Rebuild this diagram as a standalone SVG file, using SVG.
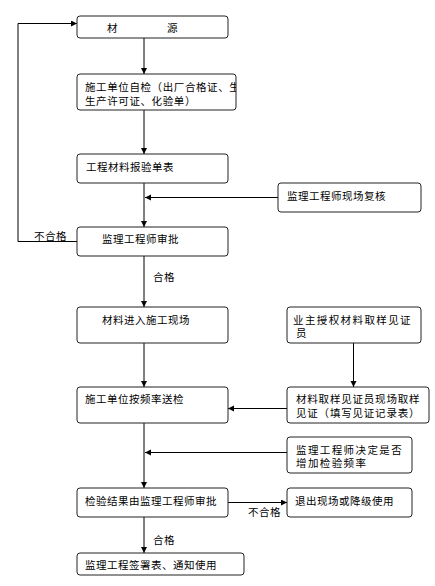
<svg xmlns="http://www.w3.org/2000/svg" width="435" height="586" viewBox="0 0 435 586">
<style>
.box{fill:#fff;stroke:#222;stroke-width:1}
.t{font-family:"Noto Sans CJK SC","Liberation Sans",sans-serif;font-size:10.5px;fill:#000;letter-spacing:0.5px;dominant-baseline:central}
.w{letter-spacing:1.4px}
.c{fill:none;stroke:#000;stroke-width:1}
</style>
<defs>
<marker id="ah" markerUnits="userSpaceOnUse" markerWidth="7" markerHeight="7" refX="6" refY="3" orient="auto">
<path d="M0,0 L6,3 L0,6 z" fill="#000"/>
</marker>
<clipPath id="cp2"><rect x="77" y="74" width="159" height="36"/></clipPath>
</defs>
<rect width="435" height="586" fill="#fff"/>
<g id="connectors">
<path class="c" d="M144 38 V74" marker-end="url(#ah)"/>
<path class="c" d="M144 110 V154" marker-end="url(#ah)"/>
<path class="c" d="M144 183 V227" marker-end="url(#ah)"/>
<path class="c" d="M278 197.5 H145" marker-end="url(#ah)"/>
<path class="c" d="M77 241.5 H18 V23.5 H77" marker-end="url(#ah)"/>
<path class="c" d="M144 256 V307" marker-end="url(#ah)"/>
<path class="c" d="M144 343 V387" marker-end="url(#ah)"/>
<path class="c" d="M353.5 343 V387" marker-end="url(#ah)"/>
<path class="c" d="M287 408.5 H228" marker-end="url(#ah)"/>
<path class="c" d="M144 423 V488" marker-end="url(#ah)"/>
<path class="c" d="M287 452.5 H145" marker-end="url(#ah)"/>
<path class="c" d="M228 502.5 H287" marker-end="url(#ah)"/>
<path class="c" d="M144 517 V553" marker-end="url(#ah)"/>
<text class="t" x="34" y="235">不合格</text>
<text class="t" x="153" y="276">合格</text>
<text class="t" x="248" y="511">不合格</text>
<text class="t" x="153" y="539.5">合格</text>
</g>
<g id="n1">
<rect class="box" x="77" y="16" width="151" height="22" rx="3"/>
<text class="t" x="107" y="27">材</text>
<text class="t" x="167" y="27">源</text>
</g>
<g id="n2">
<rect class="box" x="77" y="74" width="159" height="36" rx="3"/>
<g clip-path="url(#cp2)">
<text class="t" x="85" y="86.3" style="letter-spacing:0.6px">施工单位自检（出厂合格证、生</text>
<text class="t" x="85" y="100" style="letter-spacing:0.6px">生产许可证、化验单）</text>
</g>
</g>
<g id="n3">
<rect class="box" x="77" y="154" width="151" height="29" rx="3"/>
<text class="t" x="86" y="166">工程材料报验单表</text>
</g>
<g id="n4">
<rect class="box" x="278" y="183" width="143" height="29" rx="3"/>
<text class="t" x="287" y="195.5">监理工程师现场复核</text>
</g>
<g id="n5">
<rect class="box" x="77" y="227" width="151" height="29" rx="3"/>
<text class="t" x="102" y="238.5">监理工程师审批</text>
</g>
<g id="n6">
<rect class="box" x="77" y="307" width="151" height="36" rx="3"/>
<text class="t" x="102" y="319">材料进入施工现场</text>
</g>
<g id="n7">
<rect class="box" x="287" y="307" width="134" height="36" rx="3"/>
<text class="t w" x="293" y="319">业主授权材料取样见证</text>
<text class="t w" x="296" y="332.5">员</text>
</g>
<g id="n8">
<rect class="box" x="77" y="387" width="151" height="36" rx="3"/>
<text class="t" x="85" y="398.5">施工单位按频率送检</text>
</g>
<g id="n9">
<rect class="box" x="287" y="387" width="142" height="36" rx="3"/>
<text class="t" x="296" y="398.5" style="letter-spacing:0.8px">材料取样见证员现场取样</text>
<text class="t" x="296" y="412" style="letter-spacing:0.8px">见证（填写见证记录表）</text>
</g>
<g id="n10">
<rect class="box" x="287" y="437" width="125" height="36" rx="3"/>
<text class="t w" x="296" y="449">监理工程师决定是否</text>
<text class="t w" x="296" y="462.5">增加检验频率</text>
</g>
<g id="n11">
<rect class="box" x="77" y="488" width="151" height="29" rx="3"/>
<text class="t" x="85" y="500">检验结果由监理工程师审批</text>
</g>
<g id="n12">
<rect class="box" x="287" y="488" width="125" height="29" rx="3"/>
<text class="t" x="295" y="500">退出现场或降级使用</text>
</g>
<g id="n13">
<rect class="box" x="77" y="553" width="167" height="22" rx="3"/>
<text class="t" x="85" y="564.5">监理工程签署表、通知使用</text>
</g>
</svg>
